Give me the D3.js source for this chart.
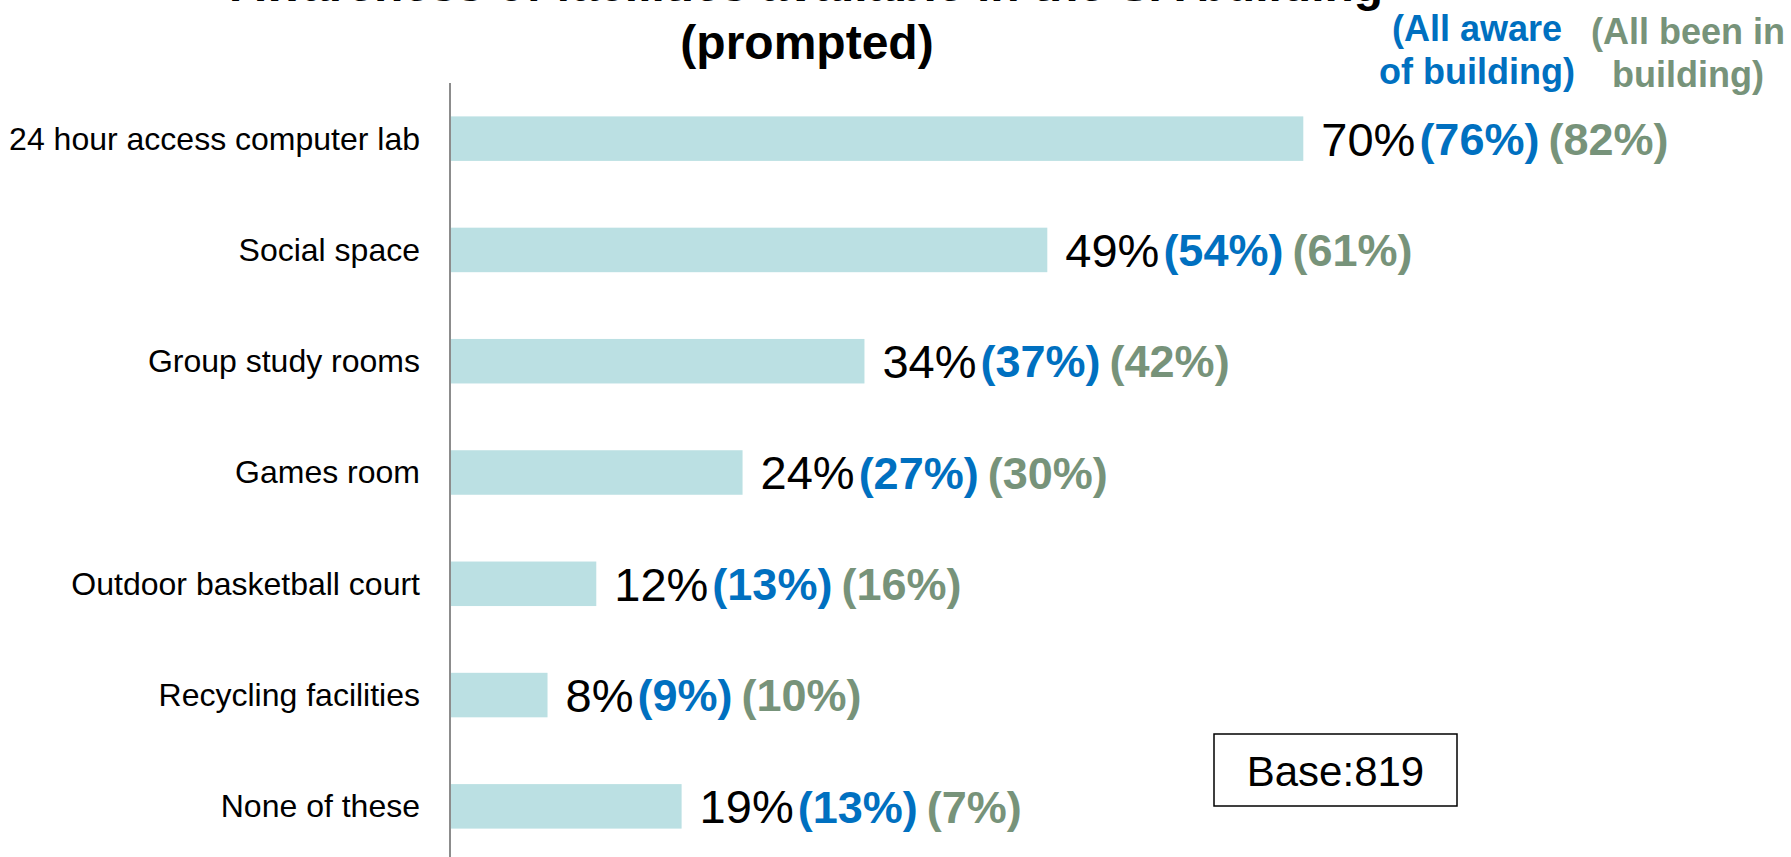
<!DOCTYPE html>
<html>
<head>
<meta charset="utf-8">
<script src="https://cdn.jsdelivr.net/npm/d3@7"></script>
<style>
  html, body { margin: 0; padding: 0; background: #fff; }
  svg { display: block; font-family: "Liberation Sans", Arial, sans-serif; }
</style>
</head>
<body>
<svg id="chart" width="1791" height="857"></svg>
<script>
const categories = [
  "24 hour access computer lab",
  "Social space",
  "Group study rooms",
  "Games room",
  "Outdoor basketball court",
  "Recycling facilities",
  "None of these"
];
const allValues = [70, 49, 34, 24, 12, 8, 19];
const awareValues = [76, 54, 37, 27, 13, 9, 13];
const beenValues = [82, 61, 42, 30, 16, 10, 7];
const titleLines = ["Awareness of facilities available in the SA building", "(prompted)"];
const awareLegend = ["(All aware", "of building)"];
const beenLegend = ["(All been in", "building)"];
const baseText = "Base:819";

const svg = d3.select("#chart");
const W = 1791, H = 857;

const x = d3.scaleLinear().domain([0, 100]).range([450, 1669]);
const y = d3.scaleBand().domain(categories).range([83, 862]).paddingInner(0.6).paddingOuter(0.3);

const barColor = "#BBE0E3";
const blue = "#0070C0";
const green = "#77937A";

// Title (first line is partly cut at the top, as in the original)
const title = svg.append("text")
  .attr("x", 807).attr("y", 1)
  .attr("text-anchor", "middle")
  .style("font-weight", "bold").style("font-size", "48px").attr("fill", "#000");
title.selectAll("tspan").data(titleLines).join("tspan")
  .attr("x", 807).attr("y", (d, i) => 1 + i * 57.5).text(d => d);

// Column headers
function legend(lines, cx, y0, color) {
  const t = svg.append("text").attr("text-anchor", "middle")
    .style("font-weight", "bold").style("font-size", "36px").attr("fill", color);
  t.selectAll("tspan").data(lines).join("tspan")
    .attr("x", cx).attr("y", (d, i) => y0 + i * 43).text(d => d);
}
legend(awareLegend, 1477, 41, blue);
legend(beenLegend, 1688, 44, green);

// Bars
svg.append("g").selectAll("rect").data(categories).join("rect")
  .attr("x", x(0))
  .attr("y", d => y(d))
  .attr("width", (d, i) => x(allValues[i]) - x(0))
  .attr("height", y.bandwidth())
  .attr("fill", barColor);

// Category axis (line only, no ticks)
const yAxis = d3.axisLeft(y).tickSize(0).tickPadding(30);
const ag = svg.append("g").attr("transform", `translate(${x(0)},0)`).call(yAxis);
ag.select(".domain").attr("stroke", "#8C8C8C").attr("stroke-width", 2)
  .attr("d", `M0,83V${H}`);
ag.selectAll(".tick text")
  .style("font-size", "32px").style("font-family", "'Liberation Sans', Arial, sans-serif")
  .attr("fill", "#000").attr("dy", "0.34em");

// Value labels
const lg = svg.append("g");
categories.forEach((c, i) => {
  const cy = y(c) + y.bandwidth() / 2;
  const t1 = lg.append("text")
    .attr("x", x(allValues[i]) + 18).attr("y", cy).attr("dy", "0.36em")
    .style("font-size", "47px").attr("fill", "#000").text(allValues[i] + "%");
  const x2 = x(allValues[i]) + 18 + t1.node().getComputedTextLength() + 4;
  const t2 = lg.append("text")
    .attr("x", x2).attr("y", cy).attr("dy", "0.36em")
    .style("font-size", "45px").style("font-weight", "bold").attr("fill", blue)
    .text("(" + awareValues[i] + "%)");
  const x3 = x2 + t2.node().getComputedTextLength() + 9;
  lg.append("text")
    .attr("x", x3).attr("y", cy).attr("dy", "0.36em")
    .style("font-size", "45px").style("font-weight", "bold").attr("fill", green)
    .text("(" + beenValues[i] + "%)");
});

// Base box
svg.append("rect").attr("x", 1214).attr("y", 734).attr("width", 243).attr("height", 72)
  .attr("fill", "#fff").attr("stroke", "#000").attr("stroke-width", 1.5);
svg.append("text").attr("x", 1335.5).attr("y", 786).attr("text-anchor", "middle")
  .style("font-size", "42px").attr("fill", "#000").text(baseText);
</script>
</body>
</html>
